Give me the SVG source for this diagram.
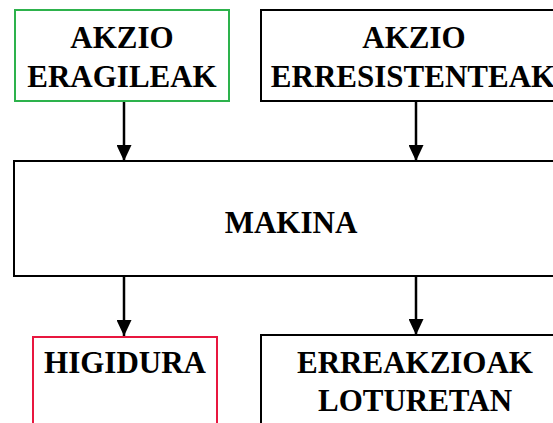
<svg xmlns="http://www.w3.org/2000/svg" width="553" height="423" viewBox="0 0 553 423">
<defs>
<style>
.box{fill:#fff;stroke:#000;stroke-width:2}
.t{font-family:"Liberation Serif","Times New Roman",serif;font-weight:bold;font-size:31px;fill:#000;text-anchor:middle}
.c{stroke:#000;stroke-width:2.5;fill:none}
</style>
<marker id="ah" viewBox="0 0 16 15" refX="16" refY="7.5" markerWidth="16" markerHeight="15" markerUnits="userSpaceOnUse" orient="auto">
<path d="M0,0 L16,7.5 L0,15 Z" fill="#000"/>
</marker>
</defs>
<rect width="553" height="423" fill="#fff"/>
<g id="connectors">
<line class="c" x1="124" y1="101" x2="124" y2="161" marker-end="url(#ah)"/>
<line class="c" x1="416" y1="101" x2="416" y2="161" marker-end="url(#ah)"/>
<line class="c" x1="124" y1="276" x2="124" y2="336" marker-end="url(#ah)"/>
<line class="c" x1="416" y1="276" x2="416" y2="335" marker-end="url(#ah)"/>
</g>
<g id="akzio-eragileak">
<rect x="15" y="10" width="214" height="91" fill="#fff" stroke="#2db24c" stroke-width="2"/>
<text class="t" x="122" y="48">AKZIO</text>
<text class="t" x="122" y="87">ERAGILEAK</text>
</g>
<g id="akzio-erresistenteak">
<rect class="box" x="261" y="10" width="310" height="91"/>
<text class="t" x="414" y="48">AKZIO</text>
<text class="t" x="413" y="87">ERRESISTENTEAK</text>
</g>
<g id="makina">
<rect class="box" x="14" y="161" width="560" height="115"/>
<text class="t" x="291" y="233">MAKINA</text>
</g>
<g id="higidura">
<rect x="33" y="337" width="184" height="110" fill="#fff" stroke="#e8173f" stroke-width="2"/>
<text class="t" x="125" y="373">HIGIDURA</text>
</g>
<g id="erreakzioak">
<rect class="box" x="261" y="335" width="310" height="110"/>
<text class="t" x="415" y="373">ERREAKZIOAK</text>
<text class="t" x="415" y="411">LOTURETAN</text>
</g>
</svg>
